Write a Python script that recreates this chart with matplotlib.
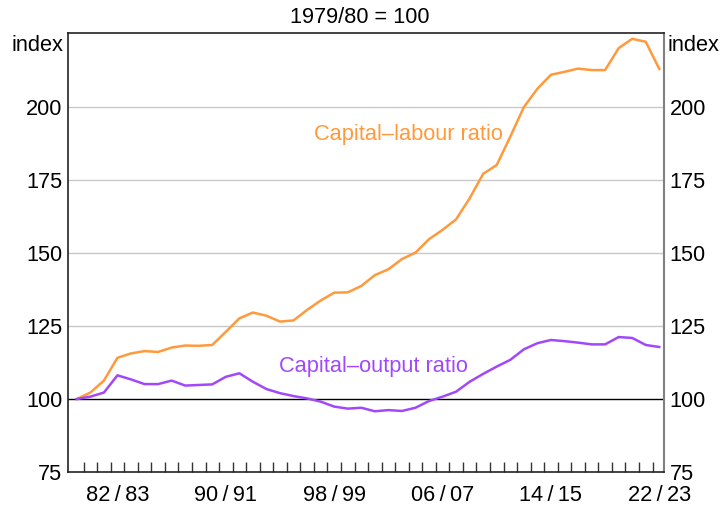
import numpy as np
import matplotlib.pyplot as plt

plt.rcParams['font.family'] = ['Liberation Sans', 'DejaVu Sans']

# Financial years 1979/80 .. 2022/23, index 1979/80 = 100
years = list(range(1979, 2023))
capital_labour = [100.0, 102.2, 106.3, 114.1, 115.6, 116.4, 116.1, 117.6, 118.3, 118.2,
                  118.5, 123.0, 127.6, 129.6, 128.5, 126.5, 126.9, 130.5, 133.7, 136.4,
                  136.5, 138.7, 142.4, 144.4, 147.9, 150.1, 154.7, 157.9, 161.5, 168.7,
                  177.1, 180.1, 189.8, 199.9, 206.2, 211.0, 212.0, 213.1, 212.6, 212.6,
                  220.1, 223.3, 222.3, 213.0]
capital_output = [100.0, 100.8, 102.2, 108.1, 106.7, 105.1, 105.1, 106.3, 104.6, 104.8,
                  105.0, 107.6, 108.8, 105.9, 103.4, 102.0, 101.0, 100.2, 99.1, 97.4,
                  96.7, 97.0, 95.8, 96.2, 95.9, 97.0, 99.3, 100.8, 102.5, 105.9,
                  108.6, 111.1, 113.4, 117.0, 119.1, 120.2, 119.8, 119.3, 118.7, 118.7,
                  121.2, 120.9, 118.5, 117.8]
label_years = [1982, 1990, 1998, 2006, 2014, 2022]
y_ticks = [75, 100, 125, 150, 175, 200]

orange = '#FF9A3C'
purple = '#A149FA'
fs = 15.7

x = np.arange(len(years))

fig = plt.figure(figsize=(7.22, 5.05), dpi=100)
ax = fig.add_axes([0.0942, 0.0653, 0.8255, 0.8694])

ax.plot(x, capital_labour, color=orange, lw=1.8, zorder=3)
ax.plot(x, capital_output, color=purple, lw=1.8, zorder=3)

ax.set_xlim(-0.65, 43.35)
ax.set_ylim(75, 225.3)

# horizontal gridlines, with the base line at 100
for v in y_ticks[2:]:
    ax.axhline(v, color='#c8c8c8', lw=1.0, zorder=1)
ax.axhline(100, color='black', lw=1.0, zorder=2)

# year-boundary ticks along the bottom, labels centred on the year
ax.set_xticks(x[1:] - 0.5)
ax.tick_params(axis='x', which='major', direction='in', length=7, width=1.0,
               color='#333333', labelbottom=False)
ax.set_xticks([years.index(y) for y in label_years], minor=True)
ax.set_xticklabels(['%02d\u2009/\u2009%02d' % (y % 100, (y + 1) % 100) for y in label_years],
                   minor=True)
ax.tick_params(axis='x', which='minor', length=0, labelsize=fs, pad=9)

ax.set_yticks(y_ticks)
ax.tick_params(axis='y', length=0, labelsize=fs, pad=4,
               labelleft=True, labelright=True)

for side in ['left', 'top', 'bottom']:
    ax.spines[side].set_color('#222222')
    ax.spines[side].set_linewidth(1.2)
ax.spines['right'].set_color('#808080')
ax.spines['right'].set_linewidth(1.5)

ax.text(-0.008, 0.995, 'index', transform=ax.transAxes, ha='right', va='top',
        fontsize=fs)
ax.text(1.006, 0.995, 'index', transform=ax.transAxes, ha='left', va='top',
        fontsize=fs)

ax.text(24.5, 190.4, 'Capital\u2013labour ratio', color=orange, fontsize=fs,
        ha='center', va='center')
ax.text(21.9, 111.2, 'Capital\u2013output ratio', color=purple, fontsize=fs,
        ha='center', va='center')

fig.text(0.4986, 0.966, '1979/80 = 100', ha='center', va='center', fontsize=fs)

fig.savefig('out.png', dpi=100)
